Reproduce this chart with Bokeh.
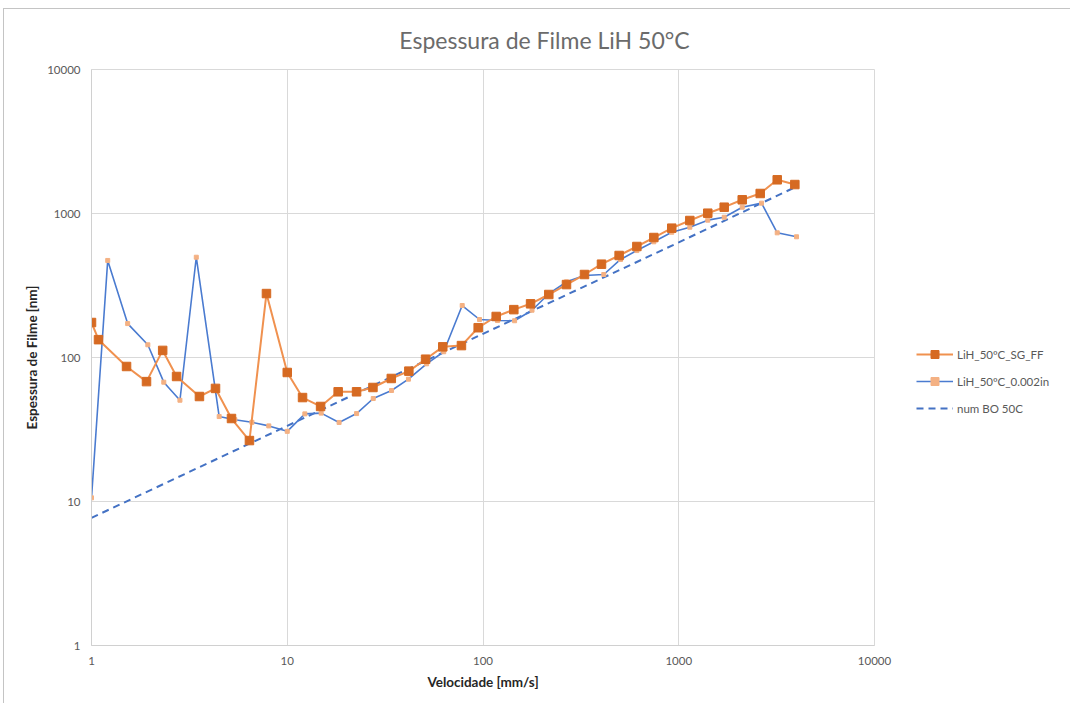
from bokeh.plotting import figure
from bokeh.layouts import row, column
from bokeh.models import (FixedTicker, NumeralTickFormatter, Legend, LegendItem,
                          Range1d, Div)
from bokeh.embed import file_html
from bokeh.resources import INLINE

# Film thickness vs. speed, LiH at 50 °C
x_sg = [1.0, 1.086, 1.51, 1.91, 2.31, 2.72, 3.56, 4.30, 5.19, 6.41,
        7.83, 10.0, 11.97, 14.8, 18.2, 22.6, 27.4, 34.0, 41.8, 50.9,
        62.3, 77.6, 94.5, 116.8, 143.7, 175, 216.8, 267, 330, 403,
        496, 611, 746, 921, 1139, 1407, 1707, 2110, 2607, 3185, 3918]
y_sg = [175, 133, 86.6, 68, 112, 73.8, 53.6, 61, 37.7, 26.5,
        278, 78.7, 52.7, 45.7, 57.8, 57.8, 61.9, 71.5, 80.4, 97.3,
        118.6, 121, 161, 192.7, 215, 236, 273.8, 321, 377, 444.6,
        511, 590, 681, 791, 894, 1005, 1106, 1245, 1377, 1714, 1589]

x_002 = [1.0, 1.21, 1.53, 1.94, 2.34, 2.83, 3.43, 4.49, 5.4, 6.6,
         8.05, 10.0, 12.3, 14.9, 18.4, 22.6, 27.5, 34.1, 41.6, 51.5,
         63, 78.3, 96, 118.6, 145, 178, 217, 267, 330, 414,
         504, 611, 746, 921, 1139, 1407, 1707, 2110, 2648, 3185, 3996]
y_002 = [10.6, 472, 172, 122.5, 67.4, 50.5, 497, 38.9, 37, 35.5,
         33.5, 30.7, 40.6, 41.1, 35.4, 40.8, 51.9, 59, 70.7, 90.4,
         109.6, 229.6, 183.6, 180.6, 180, 213, 277, 335.5, 371, 377,
         479.6, 553, 636, 741, 803.6, 899, 942, 1106, 1180, 734, 689]

x_bo = [1, 10, 100, 1000, 3918]
y_bo = [7.7, 33.5, 146, 630, 1520]

decade_ticks = [1, 10, 100, 1000, 10000]
series_names = ["LiH_50ºC_SG_FF", "LiH_50ºC_0.002in", "num BO 50C"]
chart_title = "Espessura de Filme LiH 50°C"

FONT = "Lato"
GREY = "#595959"

# series styles, shared by the chart and the legend panel
SG_LINE = dict(line_color="#F0914F", line_width=2)
SG_MARK = dict(marker="square", size=8.5, fill_color="#D66A22", line_color="#D66A22")
IN_LINE = dict(line_color="#4A7BD0", line_width=1.6)
IN_MARK = dict(marker="square", size=4, fill_color="#F4B183", line_color="#F4B183")
BO_LINE = dict(line_color="#4472C4", line_width=2, line_dash="7 5")

title_div = Div(text=chart_title, width=1066, height=50, margin=0,
                styles={"font-family": FONT, "font-size": "23px", "color": "#6b6b6b",
                        "text-align": "center", "line-height": "23px",
                        "padding-top": "20px", "padding-left": "15px",
                        "box-sizing": "border-box", "white-space": "nowrap"})

p = figure(width=894, height=644, x_axis_type="log", y_axis_type="log",
           x_range=(1, 10000), y_range=(1, 10000),
           output_backend="svg", toolbar_location=None,
           min_border_left=87, min_border_right=24,
           min_border_top=10, min_border_bottom=58)
p.outline_line_color = "#d9d9d9"
p.background_fill_color = "white"
p.border_fill_color = "white"

for ax in (p.xaxis[0], p.yaxis[0]):
    ax.ticker = FixedTicker(ticks=decade_ticks, minor_ticks=[])
    ax.formatter = NumeralTickFormatter(format="0")
    ax.major_tick_line_color = None
    ax.minor_tick_line_color = None
    ax.axis_line_color = "#d0d0d0"
    ax.major_label_text_font = FONT
    ax.major_label_text_font_size = "11.5px"
    ax.major_label_text_color = GREY
    ax.axis_label_text_font = FONT
    ax.axis_label_text_font_size = "13.5px"
    ax.axis_label_text_font_style = "bold"
    ax.axis_label_text_color = "#262626"

p.xaxis.axis_label = "Velocidade [mm/s]"
p.yaxis.axis_label = "Espessura de Filme [nm]"
p.xaxis.major_label_standoff = 5
p.xaxis.axis_label_standoff = 6
p.yaxis.major_label_standoff = 5
p.yaxis.axis_label_standoff = 4
p.yaxis.major_label_orientation = "horizontal"

p.grid.grid_line_color = "#d9d9d9"
p.grid.grid_line_width = 1

# numerical reference curve
p.line(x_bo, y_bo, **BO_LINE)

# 0.002 in measurement
p.line(x_002, y_002, **IN_LINE)
p.scatter(x_002, y_002, **IN_MARK)

# SG_FF measurement
p.line(x_sg, y_sg, **SG_LINE)
p.scatter(x_sg, y_sg, **SG_MARK)

# legend panel to the right of the chart; its ranges keep the series out of view,
# so only the legend keys are drawn
lp = figure(width=172, height=644, output_backend="svg", toolbar_location=None,
            x_range=Range1d(-2, -1), y_range=Range1d(-2, -1),
            min_border=0, outline_line_color=None)
lp.axis.visible = False
lp.grid.visible = False
lp.border_fill_color = "white"

k_sg_l = lp.line(x_sg, y_sg, **SG_LINE)
k_sg_m = lp.scatter(x_sg, y_sg, **SG_MARK)
k_in_l = lp.line(x_002, y_002, **IN_LINE)
k_in_m = lp.scatter(x_002, y_002, **IN_MARK)
k_bo = lp.line(x_bo, y_bo, **BO_LINE)

legend = Legend(items=[
    LegendItem(label=series_names[0], renderers=[k_sg_l, k_sg_m]),
    LegendItem(label=series_names[1], renderers=[k_in_l, k_in_m]),
    LegendItem(label=series_names[2], renderers=[k_bo]),
], location=(18, 227), orientation="vertical",
    glyph_width=37, glyph_height=20, label_height=20, spacing=7,
    label_standoff=4, padding=0, margin=0,
    border_line_color=None, background_fill_alpha=0,
    label_text_font=FONT, label_text_font_size="11.5px", label_text_color=GREY)
lp.add_layout(legend, "center")

layout = column(title_div, row(p, lp, spacing=0), spacing=0)
layout.styles = {"margin-left": "3px", "margin-top": "8px", "background": "white",
                 "border-left": "1px solid #c4c4c4", "border-top": "1px solid #c4c4c4"}

open("out.html", "w").write(file_html(layout, INLINE))
